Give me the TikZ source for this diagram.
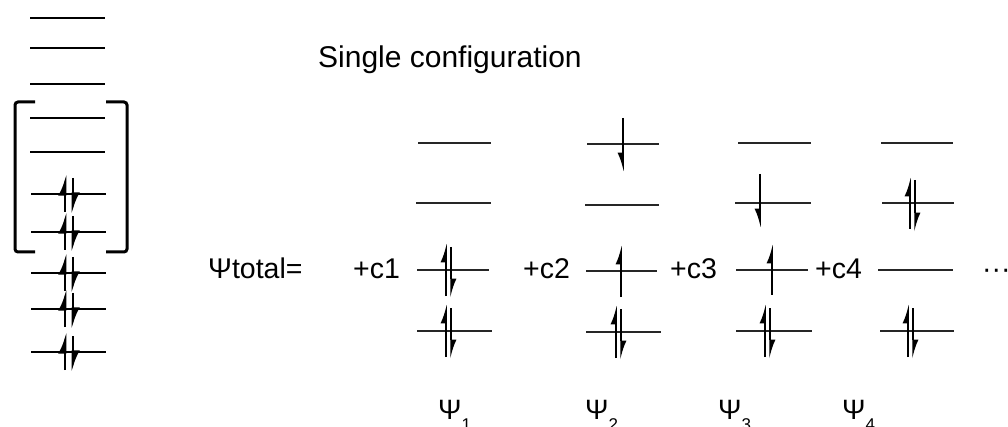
\documentclass[tikz,border=0pt]{standalone}
\usepackage{fontspec}
\setmainfont{Liberation Sans}
\usetikzlibrary{arrows.meta}
\begin{document}
\begin{tikzpicture}[x=1pt,y=-1pt,
  lvl/.style={line width=1.4pt,draw=black!85},
  biglvl/.style={line width=2.6pt,draw=black},
  bigup/.style={line width=2.6pt,-{Latex[harpoon,length=17pt,width=14pt]}},
  bigdn/.style={line width=2.6pt,-{Latex[harpoon,length=17pt,width=14pt]}},
  spin/.style={line width=1.5pt,-{Latex[harpoon,length=16pt,width=11pt]}},
  spinsw/.style={line width=1.5pt,-{Latex[harpoon,swap,length=16pt,width=11pt]}},
  brk/.style={line width=3pt,rounded corners=3pt},
  lbl/.style={font=\fontsize{28.5}{32}\selectfont,anchor=base west,inner sep=0pt},
  psi/.style={font=\fontsize{28}{30}\selectfont,anchor=base west,inner sep=0pt}]
\useasboundingbox (0,0) rectangle (1008,427);
% left stack
\foreach \y in {18,48,84,118,152}{\draw[biglvl] (30,\y) -- (105,\y);}
\foreach \y in {194,232,273,309,352}{
  \draw[biglvl] (31,\y) -- (106,\y);
  \draw[bigup] (65,\y+18) -- (65,\y-20);
  \draw[bigdn] (73,\y-16) -- (73,\y+20);
}
\draw[brk] (35,102) -- (15,102) -- (15,252) -- (35,252);
\draw[brk] (106,102) -- (127,102) -- (127,252) -- (106,252);
% texts
\node[lbl,font=\fontsize{30}{34}\selectfont] (title) at (318,68) {Single configuration};
\node[lbl] (tot) at (208,279) {Ψtotal=};
\node[lbl] (c1) at (353,279) {+c1};
\node[lbl] (c2) at (523,279) {+c2};
\node[lbl] (c3) at (670,279) {+c3};
\node[lbl] (c4) at (815,279) {+c4};
\node[lbl] (dots) at (982,279) {···};
% column 1
\draw[lvl] (418,143) -- (491,143);
\draw[lvl] (416,203) -- (491,203);
\draw[lvl] (417,270) -- (489,270);
\draw[lvl] (417,331) -- (492,331);
\foreach \y in {270,331}{
  \draw[spin] (446,\y+26) -- (446,\y-27);
  \draw[spin] (451,\y-23) -- (451,\y+28);
}
% column 2
\draw[lvl] (587,144) -- (659,144);
\draw[spinsw] (623,118) -- (623,172);
\draw[lvl] (585,205) -- (659,205);
\draw[lvl] (586,271) -- (657,271);
\draw[spin] (621,297) -- (621,245);
\draw[lvl] (586,332) -- (661,332);
\draw[spin] (616,358) -- (616,305);
\draw[spin] (621,309) -- (621,360);
% column 3
\draw[lvl] (738,143) -- (811,143);
\draw[lvl] (735,203) -- (811,203);
\draw[spinsw] (760,174) -- (760,228);
\draw[lvl] (736,270) -- (808,270);
\draw[spin] (772,295) -- (772,244);
\draw[lvl] (736,331) -- (812,331);
\draw[spin] (765,357) -- (765,304);
\draw[spin] (770,308) -- (770,359);
% column 4
\draw[lvl] (881,143) -- (953,143);
\draw[lvl] (882,203) -- (954,203);
\draw[spin] (910,229) -- (910,177);
\draw[spin] (915,180) -- (915,232);
\draw[lvl] (878,270) -- (953,270);
\draw[lvl] (880,331) -- (954,331);
\draw[spin] (908,357) -- (908,304);
\draw[spin] (913,308) -- (913,359);
% labels
\node[psi] (p1) at (438,419) {Ψ\raisebox{-11pt}{\fontsize{17}{17}\selectfont 1}};
\node[psi] (p2) at (585,419) {Ψ\raisebox{-11pt}{\fontsize{17}{17}\selectfont 2}};
\node[psi] (p3) at (718,419) {Ψ\raisebox{-11pt}{\fontsize{17}{17}\selectfont 3}};
\node[psi] (p4) at (842,419) {Ψ\raisebox{-11pt}{\fontsize{17}{17}\selectfont 4}};
\end{tikzpicture}
\end{document}
